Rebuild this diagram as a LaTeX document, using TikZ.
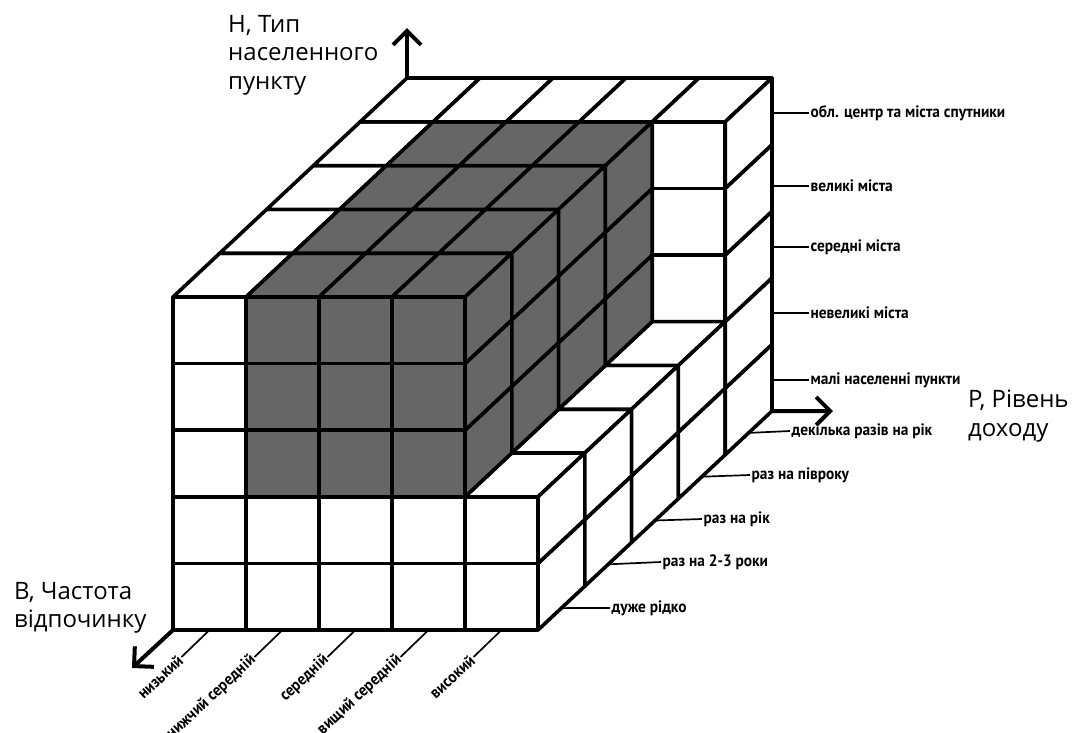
\documentclass[tikz,border=0pt]{standalone}
\usepackage{fontspec}
\setmainfont{Open Sans}
\newfontfamily\catfont[FakeStretch=0.93]{PT Sans}
\usetikzlibrary{arrows.meta}
\newcommand\cubeF[4]{\path[#4] (#1,#2,#3) -- ++(1,0,0) -- ++(0,0,1) -- ++(-1,0,0) -- cycle;}
\newcommand\cubeT[4]{\path[#4] (#1,#2,#3+1) -- ++(1,0,0) -- ++(0,1,0) -- ++(-1,0,0) -- cycle;}
\newcommand\cubeR[4]{\path[#4] (#1+1,#2,#3) -- ++(0,1,0) -- ++(0,0,1) -- ++(0,-1,0) -- cycle;}
\begin{document}
\begin{tikzpicture}[x=1pt,y=-1pt,
  face/.style={draw=black,line width=3.6pt,line join=round},
  wf/.style={face,fill=white},
  gf/.style={face,fill=black!60},
  axis/.style={line width=4pt,line cap=butt,-{Straight Barb[length=14pt,width=28pt]}},
  tickline/.style={line width=1.7pt},
  axlabel/.style={font=\fontsize{24}{28.5}\selectfont,align=left,inner sep=0pt,anchor=north west},
  catlabel/.style={font=\catfont\bfseries\fontsize{16.5}{18}\selectfont,inner sep=1.5pt,anchor=west},
  rotlabel/.style={font=\catfont\bfseries\fontsize{16.5}{18}\selectfont,inner sep=1.5pt,anchor=east,rotate=43},
]
\fill[white] (0,0) rectangle (1074,732);
\useasboundingbox (0,0) rectangle (1074,732);

\begin{scope}[shift={(173,630)}, x={(73pt,0pt)}, y={(46.8pt,43.8pt)}, z={(0pt,66.6pt)}]
  % front faces (j=0)
  \foreach \k in {0,...,4} {\cubeF{0}{0}{\k}{wf}}
  \foreach \i in {1,2,3} {
    \foreach \k in {0,1} {\cubeF{\i}{0}{\k}{wf}}
    \foreach \k in {2,3,4} {\cubeF{\i}{0}{\k}{gf}}
  }
  \foreach \k in {0,1} {\cubeF{4}{0}{\k}{wf}}
  % exposed front faces of back-right column
  \foreach \k in {2,3,4} {\cubeF{4}{4}{\k}{wf}}
  % top faces
  \foreach \j in {0,...,4} {\cubeT{0}{\j}{4}{wf}}
  \foreach \i in {1,2,3} {
    \foreach \j in {0,...,3} {\cubeT{\i}{\j}{4}{gf}}
    \cubeT{\i}{4}{4}{wf}
  }
  \cubeT{4}{4}{4}{wf}
  \foreach \j in {0,...,3} {\cubeT{4}{\j}{1}{wf}}
  % right faces
  \foreach \j in {0,...,3} {\foreach \k in {0,1} {\cubeR{4}{\j}{\k}{wf}}}
  \foreach \k in {0,...,4} {\cubeR{4}{4}{\k}{wf}}
  \foreach \j in {0,...,3} {\foreach \k in {2,3,4} {\cubeR{3}{\j}{\k}{gf}}}
  % reference points
  \coordinate (O) at (0,0,0);
  \coordinate (Htop) at (0,5,5);
  \coordinate (Pend) at (5,5,0);
  \foreach \j in {0,...,4} {\coordinate (b\j) at (5,\j+0.5,0);}
  \foreach \i in {0,...,4} {\coordinate (p\i) at (\i+0.5,0,0);}
\end{scope}

% axes
\coordinate (Htip) at (407,28);
\coordinate (Ptip) at (833,411);
\coordinate (Btip) at (132,668);
\draw[axis] (Htop) -- (Htip);
\draw[axis] (Pend) -- (Ptip);
\draw[axis] (O) -- (Btip);

\node[axlabel] (hlab) at (228,15) {Н, Тип\\населенного\\пункту};
\node[axlabel] (plab) at (968,390) {Р, Рівень\\доходу};
\node[axlabel] (blab) at (14,582) {В, Частота\\відпочинку};

% H categories
\coordinate (h0) at (774,380);
\coordinate (h1) at (774,313);
\coordinate (h2) at (774,247);
\coordinate (h3) at (774,186);
\coordinate (h4) at (774,113);
\node[catlabel] (hc0) at (809,380) {малі населенні пункти};
\node[catlabel] (hc1) at (809,313) {невеликі міста};
\node[catlabel] (hc2) at (809,247) {середні міста};
\node[catlabel] (hc3) at (809,186) {великі міста};
\node[catlabel] (hc4) at (809,113) {обл. центр та міста спутники};
\foreach \n in {0,...,4} {\draw[tickline] (h\n) -- (hc\n.west);}

% B categories
\node[catlabel] (bc0) at (610,608) {дуже рідко};
\node[catlabel] (bc1) at (661,562) {раз на 2-3 роки};
\node[catlabel] (bc2) at (702,519) {раз на рік};
\node[catlabel] (bc3) at (750,475) {раз на півроку};
\node[catlabel] (bc4) at (790,431) {декілька разів на рік};
\foreach \n in {0,...,4} {\draw[tickline] (b\n) -- (bc\n.west);}

% P categories
\foreach \n/\t in {0/низький,1/нижчий середній,2/середній,3/вищий середній,4/високий} {
  \node[rotlabel] (pc\n) at ([shift={(-28,27)}]p\n) {\t};
  \draw[tickline] (p\n) -- (pc\n.east);
}
\end{tikzpicture}
\end{document}
